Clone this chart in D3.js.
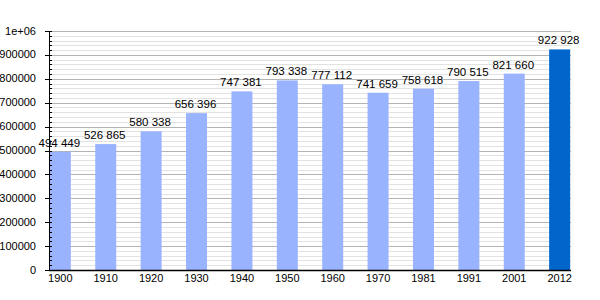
<head>
    <script src="https://cdnjs.cloudflare.com/ajax/libs/d3/7.8.5/d3.min.js"></script>
</head>

<style>
body {
    margin: 0;
    background: #fff;
}
text {
    font-family: "Liberation Sans", Arial, sans-serif;
    fill: #000;
}
</style>

<body>
<svg id="chart" width="600" height="300"></svg>

<script>
const years = ['1900', '1910', '1920', '1930', '1940', '1950', '1960', '1970', '1981', '1991', '2001', '2012'],
	population = [494449, 526865, 580338, 656396, 747381, 793338, 777112, 741659, 758618, 790515, 821660, 922928],
	yTicks = [0, 100000, 200000, 300000, 400000, 500000, 600000, 700000, 800000, 900000, 1000000];

const plotLeft = 49, plotRight = 571, plotTop = 31, plotBottom = 270,
	BAR_W = 21;

const svg = d3.select('svg#chart');

const x = d3.scalePoint()
	.domain(years)
	.range([plotLeft, plotRight])
	.padding(0.25);

const y = d3.scaleLinear()
	.domain([0, 1000000])
	.range([plotBottom, plotTop]);

const fmt = d3.formatLocale({ decimal: ',', thousands: ' ', grouping: [3], currency: ['', ''] }).format(',d');

// grid: minor every 20000, major every 100000
const minor = d3.range(20000, 1000001, 20000).filter(v => v % 100000 !== 0);
svg.append('g').selectAll('line').data(minor).join('line')
	.attr('x1', plotLeft).attr('x2', plotRight)
	.attr('y1', d => Math.round(y(d)) + 0.5).attr('y2', d => Math.round(y(d)) + 0.5)
	.attr('stroke', '#e2e2e2');
svg.append('g').selectAll('line').data(yTicks.slice(1)).join('line')
	.attr('x1', plotLeft).attr('x2', plotRight)
	.attr('y1', d => Math.round(y(d)) + 0.5).attr('y2', d => Math.round(y(d)) + 0.5)
	.attr('stroke', '#b4b4b4');

// bars
svg.append('g').selectAll('rect').data(population).join('rect')
	.attr('x', (d, i) => x(years[i]) - BAR_W / 2)
	.attr('width', BAR_W)
	.attr('y', d => y(d))
	.attr('height', d => plotBottom - y(d))
	.attr('fill', (d, i) => i === years.length - 1 ? '#0066cc' : '#99b3ff');

// value labels
svg.append('g').selectAll('text').data(population).join('text')
	.attr('x', (d, i) => x(years[i]) - 1)
	.attr('y', d => y(d) - 5)
	.attr('text-anchor', 'middle')
	.attr('font-size', 11.5)
	.text(d => fmt(d));

// y axis
const yAxis = svg.append('g');
yAxis.append('line')
	.attr('x1', plotLeft + 0.5).attr('x2', plotLeft + 0.5)
	.attr('y1', plotTop).attr('y2', plotBottom)
	.attr('stroke', '#000');
yAxis.selectAll('line.minor').data(minor).join('line')
	.attr('class', 'minor')
	.attr('x1', plotLeft).attr('x2', plotLeft + 3)
	.attr('y1', d => Math.round(y(d)) + 0.5).attr('y2', d => Math.round(y(d)) + 0.5)
	.attr('stroke', '#000');
yAxis.selectAll('line.major').data(yTicks).join('line')
	.attr('class', 'major')
	.attr('x1', plotLeft - 4).attr('x2', plotLeft + 3)
	.attr('y1', d => Math.round(y(d)) + 0.5).attr('y2', d => Math.round(y(d)) + 0.5)
	.attr('stroke', '#000');
yAxis.selectAll('text').data(yTicks).join('text')
	.attr('x', 36)
	.attr('y', d => y(d))
	.attr('dy', '0.32em')
	.attr('text-anchor', 'end')
	.attr('font-size', 11)
	.text(d => d === 1000000 ? '1e+06' : d);

// x axis
svg.append('line')
	.attr('x1', plotLeft).attr('x2', plotRight)
	.attr('y1', plotBottom + 0.5).attr('y2', plotBottom + 0.5)
	.attr('stroke', '#000')
	.attr('stroke-width', 1.5);
svg.append('g').selectAll('text').data(years).join('text')
	.attr('x', d => x(d))
	.attr('y', 282)
	.attr('text-anchor', 'middle')
	.attr('font-size', 11)
	.text(d => d);
</script>
</body>
</html>
